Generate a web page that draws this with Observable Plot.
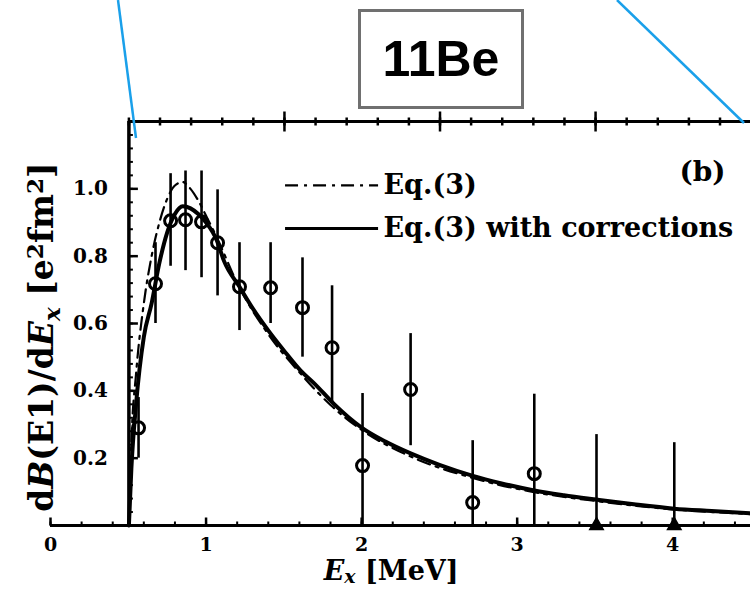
<!DOCTYPE html>
<html><head><meta charset="utf-8">
<script src="https://cdn.jsdelivr.net/npm/d3@7"></script>
<script src="https://cdn.jsdelivr.net/npm/@observablehq/plot@0.6"></script>
<style>
body{margin:0;background:#fff;}
#wrap{position:relative;width:750px;height:593px;overflow:hidden;background:#fff;}
#title{position:absolute;left:358px;top:9px;width:160px;height:94px;border:3px solid #707070;display:flex;align-items:center;justify-content:center;font:bold 50px "Liberation Sans",Arial,sans-serif;color:#000;background:#fff;}
#deco{position:absolute;left:0;top:0;pointer-events:none;}
</style></head><body><div id="wrap"></div>
<script>
// measured points (Ex in MeV, dB/dE in e^2 fm^2)
const pointE  = [0.566,0.675,0.772,0.868,0.971,1.074,1.215,1.415,1.62,1.81,2.006,2.315,2.714,3.11,3.51,4.01];
const pointB  = [0.29,0.718,0.905,0.908,0.902,0.84,0.709,0.706,0.647,0.528,0.178,0.404,0.068,0.154,0,0];
const pointLo = [0.2,0.6,0.77,0.757,0.736,0.682,0.579,0.6,0.5,0.362,0,0.237,0,0,0,0];
const pointHi = [0.38,0.84,1.045,1.053,1.053,0.997,0.84,0.84,0.795,0.712,0.392,0.57,0.252,0.39,0.27,0.246];
const pointKind = ["o","o","o","o","o","o","o","o","o","o","o","o","o","o","t","t"];

// Eq.(3) with corrections (solid)
const solidE = [0.504,0.52,0.55,0.6,0.65,0.7,0.75,0.8,0.85,0.9,0.95,1.0,1.07,1.115,1.215,1.3,1.402,1.5,1.608,1.7,1.82,2.0,2.15,2.315,2.5,2.71,2.9,3.11,3.3,3.51,3.75,4.01,4.25,4.5];
const solidB = [0,0.17,0.36,0.56,0.66,0.78,0.87,0.925,0.948,0.942,0.925,0.9,0.846,0.786,0.709,0.645,0.578,0.52,0.46,0.42,0.362,0.291,0.25,0.214,0.18,0.148,0.125,0.104,0.09,0.077,0.063,0.05,0.043,0.036];
// Eq.(3) (dash-dot)
const dashE = [0.504,0.52,0.55,0.6,0.65,0.7,0.75,0.8,0.85,0.9,0.95,1.0,1.07,1.2,1.4,1.6,1.8,2.0,2.3,2.7,3.1,3.5,4.0,4.5];
const dashB = [0,0.25,0.45,0.66,0.8,0.9,0.97,1.01,1.02,1.0,0.965,0.92,0.855,0.72,0.568,0.455,0.358,0.284,0.208,0.143,0.1,0.073,0.048,0.034];

const xTickLabels = [0,1,2,3,4];
const yTickLabels = [0.2,0.4,0.6,0.8,1.0];
const threshold = 0.504;
const legendNames = ["Eq.(3)","Eq.(3) with corrections"];

const points = pointE.map((e,i)=>({e, b:pointB[i], lo:pointLo[i], hi:pointHi[i], k:pointKind[i]}));
const solid = solidE.map((e,i)=>({e, b:solidB[i]}));
const dash = dashE.map((e,i)=>({e, b:dashB[i]}));
const xMinor = d3.range(0, 4.5001, 0.2);
const topMinor = d3.range(threshold, 4.5, 0.2);
const topMajor = d3.range(threshold + 1, 4.5, 1);
const yMinor = d3.range(0, 1.2001, 0.04);

const sym = dir => ({draw(ctx, size){
  const l = Math.sqrt(size/Math.PI);
  if (dir==="up"){ctx.moveTo(0,0);ctx.lineTo(0,-l);}
  else if (dir==="right"){ctx.moveTo(0,0);ctx.lineTo(l,0);}
  else {ctx.moveTo(0,-l);ctx.lineTo(0,l);}
}});
const serif = '"DejaVu Serif", "Liberation Serif", serif';
const dashPat = "13,6,3,6";

const chart = Plot.plot({
  width: 750, height: 593,
  marginLeft: 50, marginRight: 0, marginTop: 121, marginBottom: 68,
  x: {domain: [0, 4.5], axis: null},
  y: {domain: [0, 1.2], axis: null},
  style: {background: "#fff", overflow: "visible"},
  marks: [
    // frame lines
    Plot.ruleY([0], {x1: 0, x2: 4.5, stroke: "black", strokeWidth: 3}),
    Plot.ruleY([1.2], {x1: threshold, x2: 4.5, stroke: "black", strokeWidth: 3}),
    Plot.ruleX([threshold], {y1: 0, y2: 1.2, stroke: "black", strokeWidth: 3.5}),
    // ticks
    Plot.dot(xMinor, {x: d=>d, y: 0, symbol: sym("up"), r: 4, fill: "none", stroke: "black", strokeWidth: 2}),
    Plot.dot(xTickLabels, {x: d=>d, y: 0, symbol: sym("up"), r: 8, fill: "none", stroke: "black", strokeWidth: 2.5}),
    Plot.dot(topMinor, {x: d=>d, y: 1.2, symbol: sym("both"), r: 4, fill: "none", stroke: "black", strokeWidth: 2.5}),
    Plot.dot(topMajor, {x: d=>d, y: 1.2, symbol: sym("both"), r: 10, fill: "none", stroke: "black", strokeWidth: 2.5}),
    Plot.dot(yMinor, {x: threshold, y: d=>d, symbol: sym("right"), r: 4, fill: "none", stroke: "black", strokeWidth: 2}),
    Plot.dot(yTickLabels, {x: threshold, y: d=>d, symbol: sym("right"), r: 9, fill: "none", stroke: "black", strokeWidth: 2.5}),
    // tick labels
    Plot.text(xTickLabels, {x: d=>d, y: 0, dy: 19, text: d=>String(d), fontSize: 19, fontWeight: "bold", fontFamily: serif, fill: "black"}),
    Plot.text(yTickLabels, {x: threshold, y: d=>d, dx: -21, textAnchor: "end", text: d=>d.toFixed(1), fontSize: 20, fontWeight: "bold", fontFamily: serif, fill: "black"}),
    // curves
    Plot.line(dash, {x: "e", y: "b", curve: "monotone-x", stroke: "black", strokeWidth: 2.2, strokeDasharray: dashPat}),
    Plot.line(solid, {x: "e", y: "b", curve: "monotone-x", stroke: "black", strokeWidth: 4}),
    // data
    Plot.ruleX(points, {x: "e", y1: "lo", y2: "hi", stroke: "black", strokeWidth: 2.6}),
    Plot.dot(points.filter(d=>d.k==="o"), {x: "e", y: "b", r: 6, fill: "none", stroke: "black", strokeWidth: 3}),
    Plot.dot(points.filter(d=>d.k==="t"), {x: "e", y: "b", symbol: "triangle", r: 5, fill: "black", stroke: "black"}),
    // legend
    Plot.ruleY([1.01], {x1: 1.511, x2: 2.109, stroke: "black", strokeWidth: 2.2, strokeDasharray: dashPat}),
    Plot.ruleY([0.882], {x1: 1.511, x2: 2.109, stroke: "black", strokeWidth: 3}),
    Plot.text([legendNames[0]], {x: 2.141, y: 1.01, text: d=>d, textAnchor: "start", fontSize: 27, fontWeight: "bold", fontFamily: serif, fill: "black"}),
    Plot.text([legendNames[1]], {x: 2.141, y: 0.882, text: d=>d, textAnchor: "start", fontSize: 27, fontWeight: "bold", fontFamily: serif, fill: "black"}),
    Plot.text(["(b)"], {frameAnchor: "top-right", dx: -48, dy: 40, text: d=>d, textAnchor: "middle", fontSize: 28, fontWeight: "bold", fontFamily: serif, fill: "black"}),
    // axis titles (rich text applied afterwards)
    Plot.text(["XLABEL"], {x: 2.19, frameAnchor: "bottom", dy: 54, textAnchor: "middle", text: d=>d, fontSize: 27, fontWeight: "bold", fontFamily: serif, fill: "black"}),
    Plot.text(["YLABEL"], {y: 0.56, frameAnchor: "left", dx: -8, rotate: -90, textAnchor: "middle", text: d=>d, fontSize: 33, fontWeight: "bold", fontFamily: serif, fill: "black"})
  ]
});

function rich(el, parts){
  const t = d3.select(el); t.text(null);
  parts.forEach(p => {
    const s = t.append("tspan").text(p.t);
    if (p.i) s.attr("font-style", "italic");
    if (p.dy) s.attr("dy", p.dy);
    if (p.fs) s.attr("font-size", p.fs);
  });
}
d3.select(chart).selectAll("text").each(function(){
  if (this.textContent === "XLABEL") {
    rich(this, [{t:"E", i:1}, {t:"x", i:1, dy:"0.16em", fs:"0.7em"}, {t:" [MeV]", dy:"-0.112em"}]);
  } else if (this.textContent === "YLABEL") {
    rich(this, [{t:"d"}, {t:"B", i:1}, {t:"(E1)/d"}, {t:"E", i:1}, {t:"x", i:1, dy:"0.3em", fs:"0.7em"},
      {t:" [e", dy:"-0.21em"}, {t:"2", dy:"-0.45em", fs:"0.7em"}, {t:"fm", dy:"0.315em"}, {t:"2", dy:"-0.45em", fs:"0.7em"}, {t:"]", dy:"0.315em"}]);
  }
});

const wrap = document.getElementById("wrap");
wrap.appendChild(chart);
const title = document.createElement("div");
title.id = "title"; title.textContent = "11Be";
wrap.appendChild(title);
// slide zoom-callout lines
const deco = d3.create("svg").attr("id","deco").attr("width",750).attr("height",593);
deco.append("line").attr("x1",118).attr("y1",0).attr("x2",136).attr("y2",138).attr("stroke","#1aa0ea").attr("stroke-width",2.5);
deco.append("line").attr("x1",617).attr("y1",0).attr("x2",744).attr("y2",123).attr("stroke","#1aa0ea").attr("stroke-width",2.5);
wrap.appendChild(deco.node());
</script>
</body></html>
